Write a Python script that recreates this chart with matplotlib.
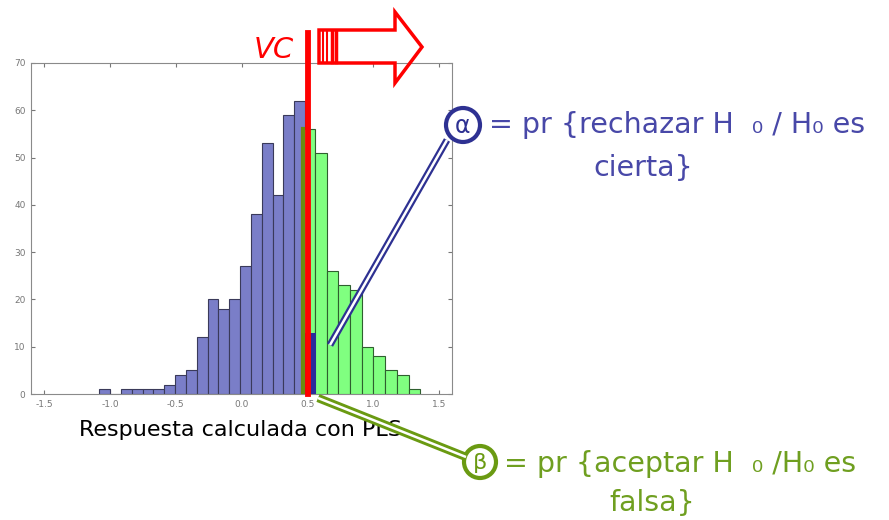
import numpy as np
import matplotlib
matplotlib.use("Agg")
import matplotlib.pyplot as plt
from matplotlib.patches import Circle, Polygon

# histograma H0 (azul) y H1 (verde)
blue_start = -1.082
blue_width = 0.0824
blue_counts = [1, 0, 1, 1, 1, 1, 2, 4, 5, 12, 20, 18, 20, 27, 38, 53, 42, 59, 62]
alpha_count = 13          # parte azul a la derecha del VC

green_start = 0.469
green_width = 0.089
green_counts = [56, 51, 26, 23, 22, 10, 8, 5, 4, 1]

vc = 0.503                # valor critico
x_ticks = [-1.5, -1.0, -0.5, 0.0, 0.5, 1.0, 1.5]
x_ticklabels = ["-1.5", "-1.0", "-0.5", "0.0", "0.5", "1.0", "1.5"]
y_ticks = [0, 10, 20, 30, 40, 50, 60, 70]

W, H = 889, 520
fig = plt.figure(figsize=(W / 100, H / 100), dpi=100)
ax = fig.add_axes([31 / W, 1 - 394 / H, (452 - 31) / W, (394 - 63) / H])

# 1) barras azules
blue_left = blue_start + blue_width * np.arange(len(blue_counts))
ax.bar(blue_left, blue_counts, width=blue_width, align="edge",
       color="#7a7ec8", edgecolor="#3a3a5a", linewidth=0.8, zorder=2)

# 2) barras verdes
green_left = green_start + green_width * np.arange(len(green_counts))
ax.bar(green_left, green_counts, width=green_width, align="edge",
       color="#80ff80", edgecolor="#2f5f2f", linewidth=0.8, zorder=3)
ax.plot([green_left[0], green_left[0]], [0, green_counts[0]],
        color="#6a8a10", lw=3, zorder=4)

# 3) zona alfa (azul oscuro)
ax.bar([blue_start + blue_width * len(blue_counts)], [alpha_count], width=blue_width,
       align="edge", color="#2b2b9b", linewidth=0, zorder=4)

# 4) linea VC
ax.plot([vc, vc], [0, 76.3], color="red", lw=4.2, zorder=6, clip_on=False)

ax.set_xlim(-1.6, 1.6)
ax.set_ylim(0, 70)
ax.set_xticks(x_ticks)
ax.set_xticklabels(x_ticklabels)
ax.set_yticks(y_ticks)
ax.tick_params(direction="in", length=3, top=True, right=True,
               labelsize=6.5, labelcolor="#777777", color="#777777", pad=4)
for s in ax.spines.values():
    s.set_color("#8a8a8a")
ax.set_xlabel("Respuesta calculada con PLS", fontsize=16, color="black")
ax.xaxis.set_label_coords(0.497, -0.11)
ax.xaxis.label.set_va("center")

# capa para anotaciones, en pixeles
ov = fig.add_axes([0, 0, 1, 1], zorder=10)
ov.set_xlim(0, W)
ov.set_ylim(H, 0)
ov.axis("off")
ov.patch.set_alpha(0)

ov.text(274, 50, "VC", color="red", fontsize=21, style="italic",
        ha="center", va="center")

# flecha roja hueca
arrow = [(319, 30), (395, 30), (395, 12), (422, 47), (395, 83), (395, 63), (319, 63)]
ov.add_patch(Polygon(arrow, closed=True, fill=False, edgecolor="red", lw=2.5))
for xx, lw in [(323, 1.5), (327, 1.5), (332, 2.5), (336, 2.5)]:
    ov.plot([xx, xx], [31, 62], color="red", lw=lw)

# alfa
blue_dark = "#2e3192"
blue_txt = "#4848a8"
ov.plot([447, 330], [140, 345], color=blue_dark, lw=5, solid_capstyle="butt")
ov.plot([447, 330], [140, 345], color="white", lw=1.8, solid_capstyle="butt")
ov.add_patch(Circle((463, 125), 17, fill=True, facecolor="white",
                    edgecolor=blue_dark, lw=3))
ov.text(463, 126, "α", color=blue_dark, fontsize=17, ha="center", va="center")
ov.text(489, 125, "= pr {rechazar H  ₀ / H₀ es", color=blue_txt, fontsize=20.5,
        ha="left", va="center")
ov.text(643, 168, "cierta}", color=blue_txt, fontsize=20.5, ha="center", va="center")

# beta
green_dark = "#6a9a12"
green_txt = "#6f9f20"
ov.plot([318, 466], [398, 457], color=green_dark, lw=6, solid_capstyle="butt")
ov.plot([318, 466], [398, 457], color="white", lw=1.8, solid_capstyle="butt")
ov.add_patch(Circle((480, 462), 16, fill=True, facecolor="white",
                    edgecolor=green_dark, lw=3))
ov.text(480, 463, "β", color=green_dark, fontsize=16, ha="center", va="center")
ov.text(504, 464, "= pr {aceptar H  ₀ /H₀ es", color=green_txt, fontsize=20.5,
        ha="left", va="center")
ov.text(652, 503, "falsa}", color=green_txt, fontsize=20.5, ha="center", va="center")

fig.savefig("out.png", dpi=100)
